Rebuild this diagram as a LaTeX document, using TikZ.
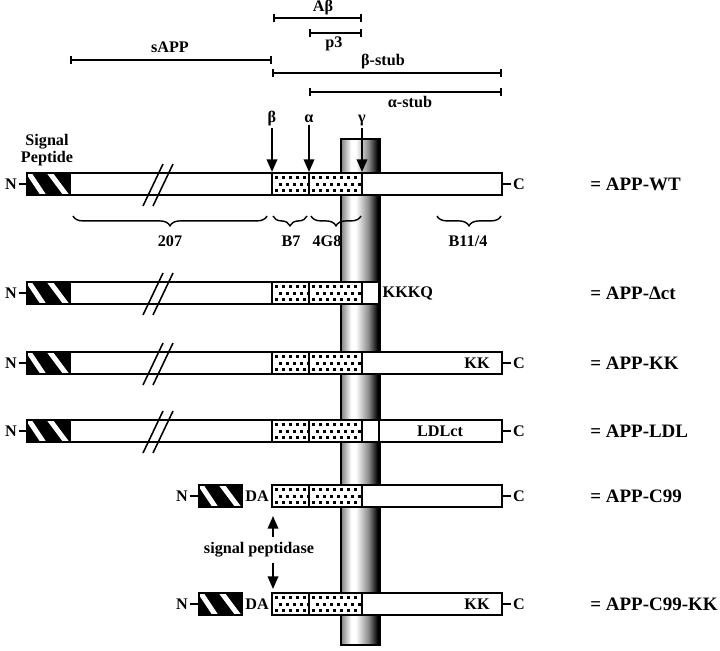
\documentclass[tikz,border=0pt]{standalone}
\usepackage{fontspec}
\setmainfont{Liberation Serif}
\usetikzlibrary{calc,arrows.meta,decorations.pathreplacing}

\pgfdeclarehorizontalshading{membrane}{100bp}{color(0bp)=(black!50); color(25bp)=(black!50); color(38bp)=(white); color(44bp)=(white); color(60bp)=(black!45); color(72bp)=(black); color(100bp)=(black)}

% signal peptide box: left x, centre y
\def\sigbox(#1,#2){%
  \fill[black] (#1,#2-11) rectangle (#1+43,#2+11);
  \begin{scope}
    \clip (#1,#2-11) rectangle (#1+43,#2+11);
    \draw[white,line width=3.6pt] (#1+1,#2-12) -- (#1+17,#2+12);
    \draw[white,line width=3.6pt] (#1+22,#2-12) -- (#1+40,#2+12);
  \end{scope}
  \draw[bar] (#1,#2-11) rectangle (#1+43,#2+11);
}
% dotted segment: from x, to x, centre y
\def\stipple(#1,#2,#3){%
  \draw[bar,fill=white] (#1,#3-11) rectangle (#2,#3+11);
  \begin{scope}
    \clip (#1+1,#3-10) rectangle (#2-1,#3+10);
    \foreach \dx in {0,7,...,56}{
      \fill (#1+\dx+3,#3-8) rectangle ++(3,3);
      \fill (#1+\dx+6.5,#3-1.5) rectangle ++(3,3);
      \fill (#1+\dx+3,#3+5) rectangle ++(3,3);
    }
  \end{scope}
  \draw[bar] (#1,#3-11) rectangle (#2,#3+11);
}
% break mark: centre x, centre y
\def\brk(#1,#2){%
  \draw[line width=1.1pt] (#1-10,#2+22) -- (#1+10,#2-20);
  \draw[line width=1.1pt] (#1,#2+22) -- (#1+20,#2-20);
}

\begin{document}
\begin{tikzpicture}[x=0.025cm,y=-0.025cm,
  bar/.style={line width=1.1pt},
  lbl/.style={font=\fontsize{11.5}{12.5}\selectfont\bfseries,inner sep=1pt},
  big/.style={font=\fontsize{13.5}{15}\selectfont\bfseries,anchor=west,inner sep=0pt},
  cut/.style={line width=1.3pt,-{Triangle[length=9pt,width=7.5pt]}},
  span/.style={line width=1.3pt,{Bar[width=5pt]}-{Bar[width=5pt]}},
  brc/.style={decorate,decoration={brace,mirror,amplitude=7pt},line width=1pt}]
			%%%%% START %%%%%
			\useasboundingbox (0,0) rectangle (720,650);
			
			\node[lbl] (abeta) at (323,8) {Aβ};
			\draw[span] (273,18) -- (362,18);
			\draw[span] (309,33) -- (362,33);
			\node[lbl] (p3) at (334,44) {p3};
			\node[lbl] (sapp) at (170,47) {sAPP};
			\draw[span] (70,60) -- (272,60);
			\node[lbl] (bstub) at (383,62) {β-stub};
			\draw[span] (272,73) -- (502,73);
			\draw[span] (309,92) -- (502,92);
			\node[lbl] (astub) at (410,102) {α-stub};
			
			\shade[shading=membrane] (341,139) rectangle (380,645);
			\draw[line width=0.8pt] (341,139) rectangle (380,645);
			
			\node[lbl,align=center] (sig) at (47,150) {Signal\\Peptide};
			
			% APP-WT
			\node[lbl] (n1) at (11,184) {N};
			\draw[bar] (n1.east) -- (27,184);
			\sigbox(27,184)
			\draw[bar,fill=white] (70,173) rectangle (272,195);
			\brk(153,184)
			\stipple(272,309,184)
			\stipple(309,362,184)
			\draw[bar,fill=white] (362,173) rectangle (502,195);
			\node[lbl] (c1) at (519,184) {C};
			\draw[bar] (502,184) -- (c1.west);
			\node[big] (wt) at (590,184) {= APP-WT};
			
			\node[lbl] (beta) at (272,119) {β};
			\coordinate (bcut) at (272,172);
			\draw[cut] (beta) -- (bcut);
			\node[lbl] (alpha) at (309,119) {α};
			\coordinate (acut) at (309,172);
			\draw[cut] (alpha) -- (acut);
			\node[lbl] (gamma) at (362,121) {γ};
			\coordinate (gcut) at (362,172);
			\draw[cut] (gamma) -- (gcut);
			
			\draw[brc] (73,216) -- (267,216);
			\node[lbl] (ab207) at (170,241) {207};
			\draw[brc] (273,216) -- (307,216);
			\node[lbl] (abb7) at (291,241) {B7};
			\draw[brc] (311,216) -- (361,216);
			\node[lbl] (ab4g8) at (327,241) {4G8};
			\draw[brc] (437,216) -- (501,216);
			\node[lbl] (abb11) at (468,241) {B11/4};
			
			% APP-dct
			\node[lbl] (n2) at (11,293) {N};
			\draw[bar] (n2.east) -- (27,293);
			\sigbox(27,293)
			\draw[bar,fill=white] (70,282) rectangle (272,304);
			\brk(153,293)
			\stipple(272,309,293)
			\stipple(309,362,293)
			\draw[bar,fill=white] (362,282) rectangle (379,304);
			\node[lbl,anchor=west] (kkkq) at (381,293) {KKKQ};
			\node[big] (dct) at (590,293) {= APP-Δct};
			
			% APP-KK
			\node[lbl] (n3) at (11,363) {N};
			\draw[bar] (n3.east) -- (27,363);
			\sigbox(27,363)
			\draw[bar,fill=white] (70,352) rectangle (272,374);
			\brk(153,363)
			\stipple(272,309,363)
			\stipple(309,362,363)
			\draw[bar,fill=white] (362,352) rectangle (502,374);
			\node[lbl] (kk3) at (477,363) {KK};
			\node[lbl] (c3) at (519,363) {C};
			\draw[bar] (502,363) -- (c3.west);
			\node[big] (kk) at (590,363) {= APP-KK};
			
			% APP-LDL
			\node[lbl] (n4) at (11,431) {N};
			\draw[bar] (n4.east) -- (27,431);
			\sigbox(27,431)
			\draw[bar,fill=white] (70,420) rectangle (272,442);
			\brk(153,431)
			\stipple(272,309,431)
			\stipple(309,362,431)
			\draw[bar,fill=white] (362,420) rectangle (379,442);
			\draw[bar,fill=white] (379,420) rectangle (502,442);
			\node[lbl] (ldlct) at (440,431) {LDLct};
			\node[lbl] (c4) at (519,431) {C};
			\draw[bar] (502,431) -- (c4.west);
			\node[big] (ldl) at (590,431) {= APP-LDL};
			
			% APP-C99
			\node[lbl] (n5) at (182,496) {N};
			\draw[bar] (n5.east) -- (199,496);
			\sigbox(199,496)
			\node[lbl] (da5) at (257,496) {DA};
			\stipple(272,309,496)
			\stipple(309,362,496)
			\draw[bar,fill=white] (362,485) rectangle (502,507);
			\node[lbl] (c5) at (519,496) {C};
			\draw[bar] (502,496) -- (c5.west);
			\node[big] (c99) at (590,496) {= APP-C99};
			
			\node[lbl] (sigpep) at (259,550) {signal peptidase};
			\coordinate (spup) at (273,516);
			\coordinate (spdown) at (273,589);
			\draw[cut,shorten <=3pt] (sigpep.north -| spup) -- (spup);
			\draw[cut,shorten <=3pt] (sigpep.south -| spdown) -- (spdown);
			
			% APP-C99-KK
			\node[lbl] (n6) at (182,604) {N};
			\draw[bar] (n6.east) -- (199,604);
			\sigbox(199,604)
			\node[lbl] (da6) at (257,604) {DA};
			\stipple(272,309,604)
			\stipple(309,362,604)
			\draw[bar,fill=white] (362,593) rectangle (502,615);
			\node[lbl] (kk6) at (477,604) {KK};
			\node[lbl] (c6) at (519,604) {C};
			\draw[bar] (502,604) -- (c6.west);
			\node[big] (c99kk) at (590,604) {= APP-C99-KK};
			
			%%%%% END %%%%%
\end{tikzpicture}
\end{document}
